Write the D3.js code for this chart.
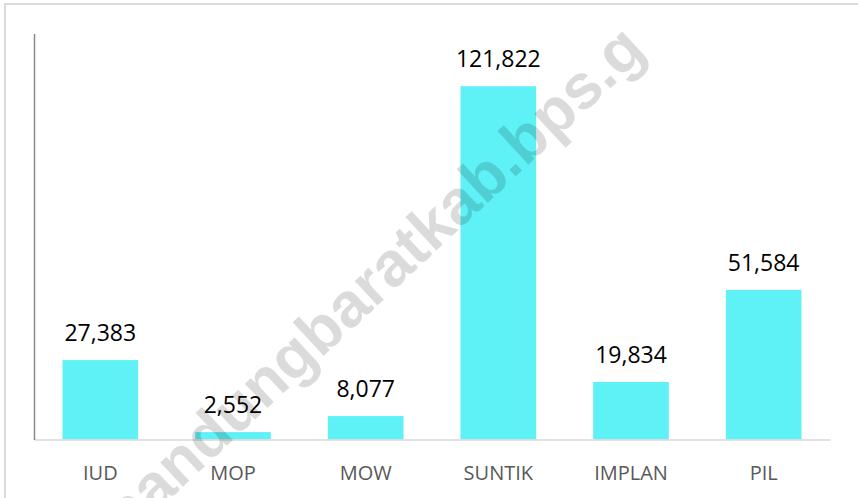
<!DOCTYPE html>
<html>
<head>
<meta charset="utf-8">
<script src="https://cdn.jsdelivr.net/npm/d3@7"></script>
<style>
  html, body { margin: 0; padding: 0; background: #fff; overflow: hidden; }
</style>
</head>
<body>
<script>
// data
var categories = ['IUD', 'MOP', 'MOW', 'SUNTIK', 'IMPLAN', 'PIL'];
var values = [27383, 2552, 8077, 121822, 19834, 51584];
var yMax = 140000;
var watermarkText = 'bandungbaratkab.bps.g';

var svg;
var x;
var y;

window.document.addEventListener('DOMContentLoaded', init, false);

function init() {
    svg = createCanvas(858, 498);
    drawFrame();

    x = d3.scaleBand()
        .domain(categories)
        .range([34, 830])
        .paddingInner(0.43)
        .paddingOuter(0.215);

    y = d3.scaleLinear()
        .domain([0, yMax])
        .range([439.5, 33.5]);

    drawBars();
    drawAxes();
    drawValueLabels();
    drawWatermark();
}

function createCanvas(w, h) {
    return d3.select('body')
        .append('svg')
        .attr('width', w)
        .attr('height', h);
}

function drawFrame() {
    // only top and left edges of the outer box are visible
    svg.append('rect')
        .attr('x', 5)
        .attr('y', 4)
        .attr('width', 900)
        .attr('height', 600)
        .attr('fill', 'none')
        .attr('stroke', '#d9d9d9')
        .attr('stroke-width', 2);
}

function drawBars() {
    svg.append('g')
        .selectAll('rect')
        .data(values)
        .enter()
        .append('rect')
        .attr('x', function (d, i) { return x(categories[i]); })
        .attr('y', function (d) { return y(d); })
        .attr('width', x.bandwidth())
        .attr('height', function (d) { return y(0) - y(d); })
        .attr('fill', '#5ef1f6');
}

function drawAxes() {
    var xAxis = svg.append('g')
        .attr('transform', 'translate(0,' + y(0) + ')')
        .call(d3.axisBottom(x).tickSize(0).tickPadding(0));
    xAxis.select('.domain')
        .attr('stroke', '#d9d9d9')
        .attr('stroke-width', 1.5);
    xAxis.selectAll('text')
        .attr('y', 40)
        .attr('dy', null)
        .attr('fill', '#595959')
        .style('font-family', '"Open Sans", sans-serif')
        .style('font-size', '20px');

    var yAxis = svg.append('g')
        .attr('transform', 'translate(34,0)')
        .call(d3.axisLeft(y).tickValues([]).tickSizeOuter(0));
    yAxis.select('.domain')
        .attr('stroke', '#898989')
        .attr('stroke-width', 1.5);
}

function drawValueLabels() {
    svg.append('g')
        .selectAll('text')
        .data(values)
        .enter()
        .append('text')
        .attr('x', function (d, i) { return x(categories[i]) + x.bandwidth() / 2; })
        .attr('y', function (d) { return y(d) - 19; })
        .attr('text-anchor', 'middle')
        .attr('fill', '#000')
        .style('font-family', '"Open Sans", sans-serif')
        .style('font-size', '23px')
        .text(function (d) { return d3.format(',')(d); });
}

function drawWatermark() {
    // diagonal site watermark, partly cut by the bottom edge like in the source
    svg.append('text')
        .attr('transform', 'translate(126,540) rotate(-43)')
        .attr('fill', '#000')
        .attr('fill-opacity', 0.14)
        .style('font-family', '"Liberation Sans", Arial, sans-serif')
        .style('font-weight', 'bold')
        .style('font-size', '63px')
        .text(watermarkText);
}
</script>
</body>
</html>
